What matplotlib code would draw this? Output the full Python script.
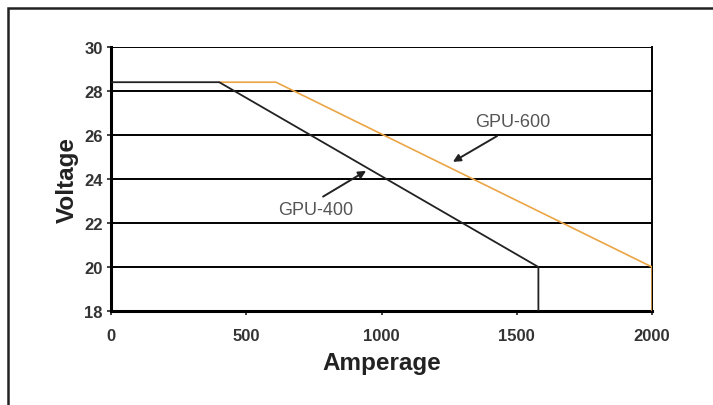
import matplotlib
matplotlib.use("Agg")
import matplotlib.pyplot as plt
from matplotlib.patches import Rectangle

gpu400_amps = [0, 400, 1580, 1580]
gpu400_volts = [28.4, 28.4, 20, 18]
gpu600_amps = [400, 610, 2000, 2000]
gpu600_volts = [28.4, 28.4, 20, 18]
x_ticks = [0, 500, 1000, 1500, 2000]
y_ticks = [18, 20, 22, 24, 26, 28, 30]

plt.rcParams['font.family'] = ['Liberation Sans', 'DejaVu Sans']

fig = plt.figure(figsize=(7.13, 4.06), dpi=100)
fig.patch.set_facecolor('white')
W, H = 713, 406
fig.patches.append(Rectangle((8 / W, -0.05), (705 - 8) / W + 0.2, (406 - 9) / H + 0.05,
                             transform=fig.transFigure, fill=False,
                             edgecolor='#222222', linewidth=1.8))

ax = fig.add_axes([111 / W, 1 - 312 / H, (652 - 111) / W, (312 - 48) / H])
ax.set_xlim(0, 2000)
ax.set_ylim(18, 30)
for y in y_ticks[1:]:
    ax.axhline(y, color='black', linewidth=1.4, zorder=1)

ax.plot(gpu600_amps, gpu600_volts, color='#EBA545', linewidth=1.2, zorder=3)
ax.plot(gpu400_amps, gpu400_volts, color='#222222', linewidth=1.3, zorder=4)

ax.set_xticks(x_ticks)
ax.set_yticks(y_ticks)
ax.tick_params(axis='both', direction='out', length=3, width=1.2, colors='#222222',
               labelsize=12)
for lab in ax.get_xticklabels() + ax.get_yticklabels():
    lab.set_fontweight('bold')
    lab.set_color('#333333')
ax.tick_params(axis='x', pad=9)
ax.tick_params(axis='y', pad=3)
for s in ['left', 'bottom']:
    ax.spines[s].set_linewidth(2.2)
ax.spines['top'].set_visible(False)
ax.spines['right'].set_linewidth(1.4)

ax.set_xlabel('Amperage', fontsize=17.5, fontweight='bold', color='#222222', labelpad=6)
ax.set_ylabel('Voltage', fontsize=17.5, fontweight='bold', color='#222222', labelpad=4)

ax.text(1486, 26.6, 'GPU-600', ha='center', va='center', fontsize=13, color='#555555')
ax.annotate('', xy=(1264, 24.78), xytext=(1427, 25.95),
            arrowprops=dict(arrowstyle='-|>', color='#222222', lw=1.4,
                            shrinkA=0, shrinkB=0, mutation_scale=11))
ax.text(758, 22.6, 'GPU-400', ha='center', va='center', fontsize=13, color='#555555')
ax.annotate('', xy=(943, 24.37), xytext=(784, 23.2),
            arrowprops=dict(arrowstyle='-|>', color='#222222', lw=1.4,
                            shrinkA=0, shrinkB=0, mutation_scale=11))

fig.savefig('out.png', dpi=100)
